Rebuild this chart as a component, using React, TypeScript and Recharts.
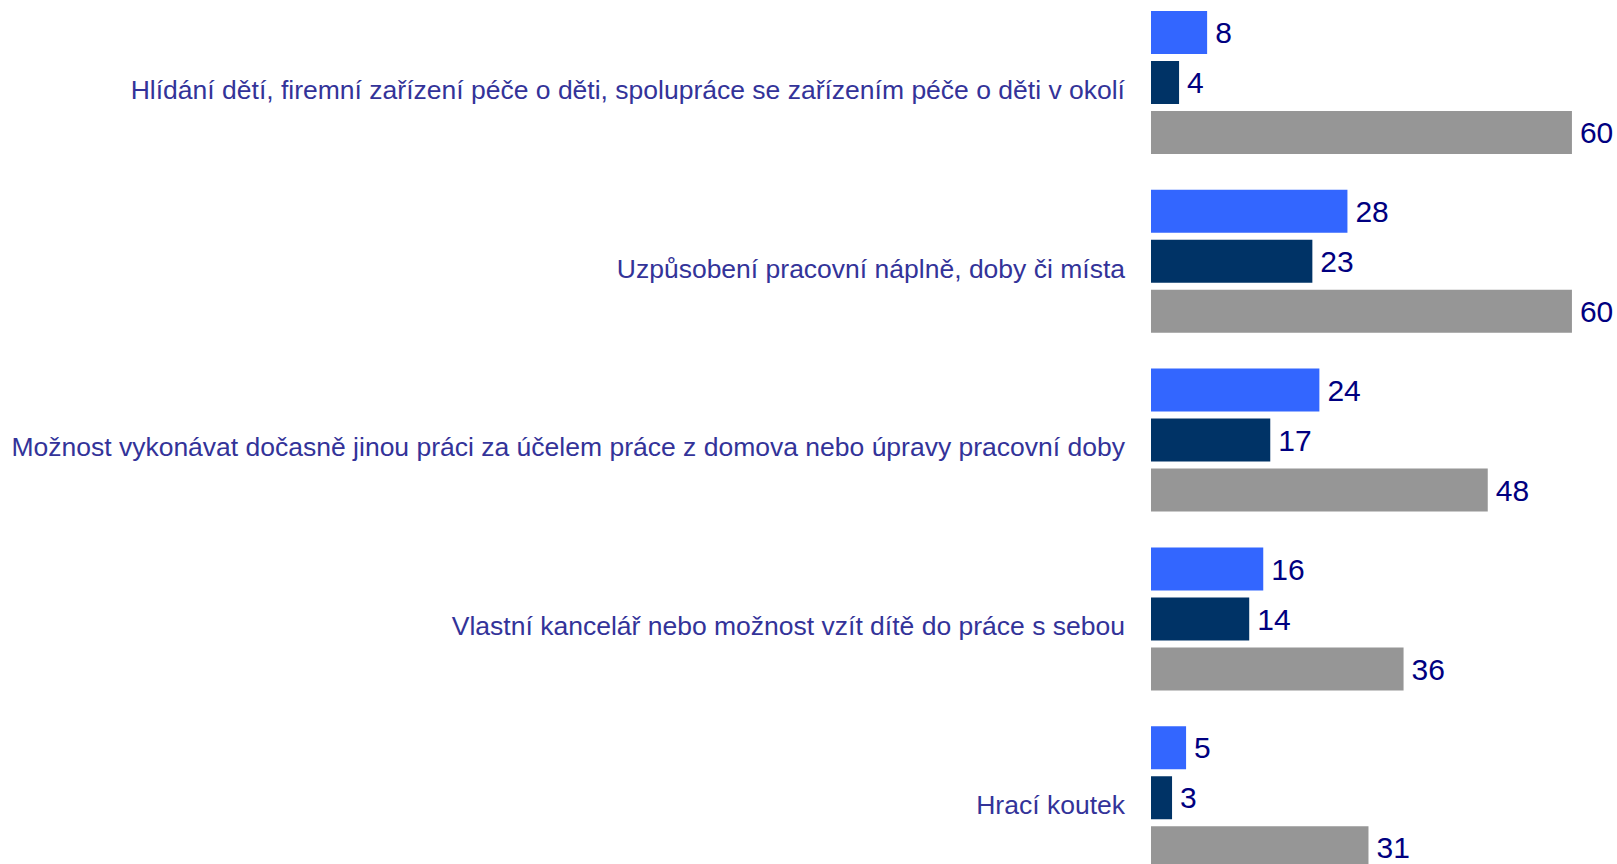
import React from 'react';
import { BarChart, Bar, XAxis, YAxis, LabelList } from 'recharts';

// kategorie (shora dolů)
const categories = [
  'Hlídání dětí, firemní zařízení péče o děti, spolupráce se zařízením péče o děti v okolí',
  'Uzpůsobení pracovní náplně, doby či místa',
  'Možnost vykonávat dočasně jinou práci za účelem práce z domova nebo úpravy pracovní doby',
  'Vlastní kancelář nebo možnost vzít dítě do práce s sebou',
  'Hrací koutek',
];

const seriesA = [8, 28, 24, 16, 5];
const seriesB = [4, 23, 17, 14, 3];
const seriesC = [60, 60, 48, 36, 31];

const data = categories.map((name, i) => ({
  name,
  a: seriesA[i],
  b: seriesB[i],
  c: seriesC[i],
}));

const CategoryTick = (props: any) => {
  const { x, y, payload } = props;
  return (
    <text
      x={x}
      y={y + 7}
      dy="0.355em"
      textAnchor="end"
      fill="#333399"
      fontSize={26.5}
      fontFamily="'Liberation Sans', Arial, sans-serif"
    >
      {payload.value}
    </text>
  );
};

const labelStyle = {
  fill: '#000080',
  fontSize: 30,
  fontFamily: "'Liberation Sans', Arial, sans-serif",
};

export default function App() {
  return (
    <div style={{ position: 'absolute', top: -7, left: 0 }}>
      <BarChart
        width={1617}
        height={894}
        data={data}
        layout="vertical"
        margin={{ top: 0, right: 17, bottom: 0, left: 0 }}
        barSize={43}
        barGap={7}
      >
        <XAxis type="number" domain={[0, 64]} hide />
        <YAxis
          type="category"
          dataKey="name"
          width={1151}
          axisLine={false}
          tickLine={false}
          tickSize={0}
          tickMargin={26}
          interval={0}
          tick={<CategoryTick />}
        />
        <Bar dataKey="a" fill="#3366FF" isAnimationActive={false}>
          <LabelList dataKey="a" position="right" offset={8} style={labelStyle} />
        </Bar>
        <Bar dataKey="b" fill="#003366" isAnimationActive={false}>
          <LabelList dataKey="b" position="right" offset={8} style={labelStyle} />
        </Bar>
        <Bar dataKey="c" fill="#969696" isAnimationActive={false}>
          <LabelList dataKey="c" position="right" offset={8} style={labelStyle} />
        </Bar>
      </BarChart>
    </div>
  );
}
